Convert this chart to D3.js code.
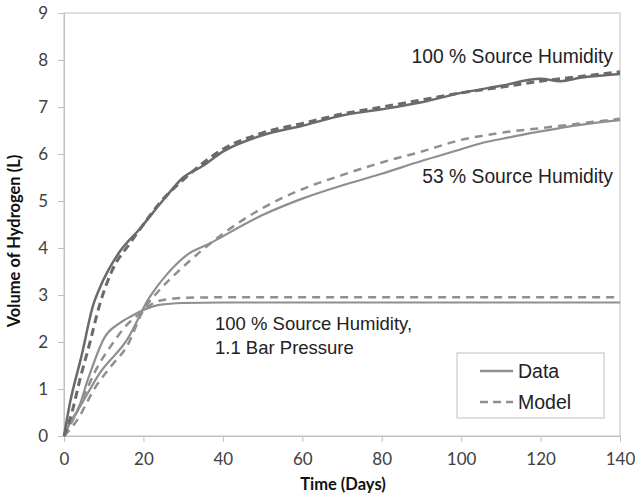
<!DOCTYPE html>
<html>
<head>
<meta charset="utf-8">
<script src="https://cdn.jsdelivr.net/npm/d3@7"></script>
<style>
  body { margin: 0; background: #fff; }
  .tick text { font-family: Lato, "Open Sans", sans-serif; font-size: 17px; fill: #404040; }
  .ann { font-family: "Liberation Sans", Arial, sans-serif; font-size: 18.5px; fill: #222; }
  .title { font-family: Lato, "Open Sans", sans-serif; font-size: 16.5px; font-weight: bold; fill: #111; }
</style>
</head>
<body>
<svg width="635" height="496"></svg>
<script>
// days / litres
var hum100Days  = [0, 1.5, 4.4, 7.4, 9, 14, 19, 25, 30, 35, 40, 50, 60, 70, 80, 90, 100, 110, 120, 125, 130, 140];
var hum100Data  = [0, 0.7, 1.7, 2.8, 3.15, 3.92, 4.4, 5.02, 5.5, 5.75, 6.05, 6.4, 6.6, 6.82, 6.95, 7.1, 7.3, 7.45, 7.6, 7.55, 7.62, 7.7];
var hum100MDays = [0, 2, 4, 6.5, 9, 12, 16.6, 20, 24, 30, 40, 50, 60, 70, 80, 90, 100, 110, 120, 130, 140];
var hum100Model = [0, 0.5, 1.2, 1.98, 2.8, 3.5, 4.1, 4.5, 4.95, 5.45, 6.1, 6.45, 6.65, 6.85, 7.0, 7.15, 7.3, 7.42, 7.55, 7.65, 7.75];

var hum53Days  = [0, 2, 4, 9, 15.8, 21.6, 26, 30.9, 36.8, 40, 50, 60, 70, 80, 90, 100, 105, 110, 120, 130, 140];
var hum53Data  = [0, 0.35, 0.62, 1.34, 2.04, 2.96, 3.45, 3.85, 4.1, 4.25, 4.7, 5.05, 5.33, 5.58, 5.85, 6.1, 6.23, 6.32, 6.48, 6.62, 6.72];
var hum53MDays  = [0, 3, 8, 12, 15.8, 20, 24, 30, 40, 50, 60, 70, 80, 90, 100, 110, 120, 130, 140];
var hum53Model  = [0, 0.3, 1.05, 1.5, 1.9, 2.68, 3.1, 3.6, 4.3, 4.85, 5.25, 5.55, 5.82, 6.05, 6.3, 6.45, 6.55, 6.65, 6.75];

var barDays  = [0, 1.5, 3.2, 6, 10.3, 14, 17.4, 20, 24, 30, 40, 60, 80, 100, 120, 140];
var barData  = [0, 0.3, 0.49, 1.2, 2.11, 2.4, 2.57, 2.68, 2.79, 2.83, 2.84, 2.84, 2.84, 2.84, 2.84, 2.84];
var barMDays  = [0, 2, 5, 8, 12, 16, 19, 23, 27, 30, 40, 60, 80, 100, 120, 140];
var barModel  = [0, 0.3, 0.85, 1.4, 1.94, 2.38, 2.6, 2.85, 2.92, 2.94, 2.95, 2.95, 2.95, 2.95, 2.95, 2.95];

var xTicks = [0, 20, 40, 60, 80, 100, 120, 140];
var yTicks = [0, 1, 2, 3, 4, 5, 6, 7, 8, 9];

var svg = d3.select("svg");
var plotL = 64, plotR = 620, plotT = 13, plotB = 436;

var x = d3.scaleLinear().domain([0, 140]).range([plotL, plotR]);
var y = d3.scaleLinear().domain([0, 9]).range([plotB, plotT]);

// plot border
svg.append("rect")
  .attr("x", plotL).attr("y", plotT)
  .attr("width", plotR - plotL).attr("height", plotB - plotT)
  .attr("fill", "none").attr("stroke", "#c0c0c0").attr("stroke-width", 1);

var xAxis = svg.append("g")
  .attr("transform", "translate(0," + plotB + ")")
  .call(d3.axisBottom(x).tickValues(xTicks).tickSize(6).tickPadding(8));
var yAxis = svg.append("g")
  .attr("transform", "translate(" + plotL + ",0)")
  .call(d3.axisLeft(y).tickValues(yTicks).tickSize(6).tickPadding(10));
[xAxis, yAxis].forEach(function(a) {
  a.select(".domain").attr("stroke", "#c0c0c0");
  a.selectAll(".tick line").attr("stroke", "#c0c0c0");
});
xAxis.selectAll(".tick text").attr("dy", "0.9em");

function series(days, vals) {
  return days.map(function(d, i) { return [d, vals[i]]; });
}
var line = d3.line()
  .x(function(d) { return x(d[0]); })
  .y(function(d) { return y(d[1]); })
  .curve(d3.curveMonotoneX);

var dark = "#6a6a6a", light = "#8f8f8f";
var curves = [
  { pts: series(barMDays, barModel),  color: light, w: 2.5, dash: "8,6" },
  { pts: series(barDays, barData),    color: light, w: 2.2, dash: null },
  { pts: series(hum53MDays, hum53Model), color: light, w: 2.5, dash: "8,6" },
  { pts: series(hum53Days, hum53Data),   color: light, w: 2.2, dash: null },
  { pts: series(hum100MDays, hum100Model), color: dark, w: 3, dash: "8,5" },
  { pts: series(hum100Days, hum100Data),   color: dark, w: 2.5, dash: null }
];
curves.forEach(function(c) {
  svg.append("path")
    .attr("d", line(c.pts))
    .attr("fill", "none")
    .attr("stroke", c.color)
    .attr("stroke-width", c.w)
    .attr("stroke-dasharray", c.dash);
});

// annotations
svg.append("text").attr("class", "ann").attr("x", 613).attr("y", 63)
  .attr("text-anchor", "end").style("font-size", "19.3px").text("100 % Source Humidity");
svg.append("text").attr("class", "ann").attr("x", 613).attr("y", 183)
  .attr("text-anchor", "end").style("font-size", "19.3px").text("53 % Source Humidity");
svg.append("text").attr("class", "ann").attr("x", 215).attr("y", 330)
  .text("100 % Source Humidity,");
svg.append("text").attr("class", "ann").attr("x", 215).attr("y", 354)
  .text("1.1 Bar Pressure");

// legend
var lg = svg.append("g");
lg.append("rect").attr("x", 457).attr("y", 353).attr("width", 147).attr("height", 65)
  .attr("fill", "#fff").attr("stroke", "#c0c0c0");
[["Data", null, 371], ["Model", "8,5", 402]].forEach(function(r) {
  lg.append("line").attr("x1", 480).attr("x2", 513).attr("y1", r[2]).attr("y2", r[2])
    .attr("stroke", light).attr("stroke-width", 2.5).attr("stroke-dasharray", r[1]);
  lg.append("text").attr("class", "ann").attr("x", 518).attr("y", r[2] + 7)
    .style("font-size", "19.5px").text(r[0]);
});

// axis titles
svg.append("text").attr("class", "title")
  .attr("x", (plotL + plotR) / 2 + 1).attr("y", 490)
  .attr("text-anchor", "middle")
  .text("Time (Days)");
svg.append("text").attr("class", "title")
  .attr("transform", "translate(20,241) rotate(-90)")
  .attr("text-anchor", "middle")
  .text("Volume of Hydrogen (L)");
</script>
</body>
</html>
